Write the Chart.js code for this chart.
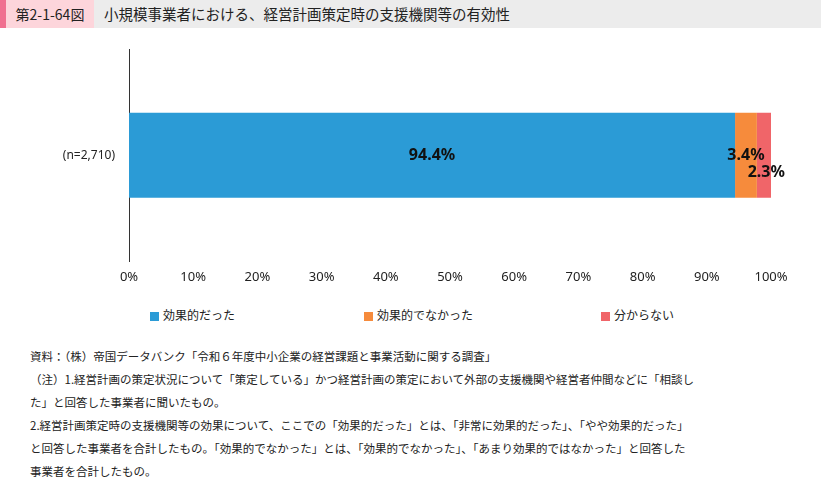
<!DOCTYPE html>
<html><head><meta charset="utf-8">
<script src="https://cdn.jsdelivr.net/npm/chart.js@4"></script>
<style>
body{margin:0;width:821px;height:485px;background:#fff;font-family:"Noto Sans CJK JP","Noto Sans",sans-serif;position:relative;overflow:hidden}
#hd{position:absolute;left:0;top:0;width:821px;height:28px;background:#ececec}
#hd .strip{position:absolute;left:0;top:0;width:6px;height:28px;background:#f07090}
#hd .lab{position:absolute;left:6px;top:0;width:88px;height:28px;background:#fdd5db;font-size:14px;line-height:28px;text-align:center;color:#222}
#hd .tt{position:absolute;left:104px;top:0;font-size:14.5px;line-height:28px;color:#222}
#cv{position:absolute;left:0;top:28px}
.lg{position:absolute;top:307px;font-size:12px;color:#222;line-height:16px}
.lg span{display:inline-block;width:9px;height:9px;margin-right:4px;vertical-align:-1px}
#notes{position:absolute;left:30px;top:345px;width:770px;font-size:11.5px;line-height:23px;color:#222}
</style></head><body>
<div id="hd"><div class="strip"></div><div class="lab">第2-1-64図</div><div class="tt">小規模事業者における、経営計画策定時の支援機関等の有効性</div></div>
<canvas id="cv" width="821" height="265"></canvas>
<div class="lg" style="left:150px"><span style="background:#2b9bd6"></span>効果的だった</div>
<div class="lg" style="left:364px"><span style="background:#f68b3c"></span>効果的でなかった</div>
<div class="lg" style="left:601px"><span style="background:#f06569"></span>分からない</div>
<div id="notes">資料：（株）帝国データバンク「令和６年度中小企業の経営課題と事業活動に関する調査」<br>（注）1.経営計画の策定状況について「策定している」かつ経営計画の策定において外部の支援機関や経営者仲間などに「相談し<br>た」と回答した事業者に聞いたもの。<br>2.経営計画策定時の支援機関等の効果について、ここでの「効果的だった」とは、「非常に効果的だった」、「やや効果的だった」<br>と回答した事業者を合計したもの。「効果的でなかった」とは、「効果的でなかった」、「あまり効果的ではなかった」と回答した<br>事業者を合計したもの。</div>
<script>
const categories=["(n=2,710)"];
const seriesNames=["効果的だった","効果的でなかった","分からない"];
const effective=[94.4];
const notEffective=[3.4];
const unknown=[2.3];
const colors=["#2b9bd6","#f68b3c","#f06569"];
const labelPlugin={id:'lbl',afterDatasetsDraw(c){
 const ctx=c.ctx;ctx.save();ctx.fillStyle="#111";ctx.font="bold 16px 'Noto Sans',sans-serif";ctx.textAlign="center";ctx.textBaseline="middle";
 c.data.datasets.forEach((ds,i)=>{const el=c.getDatasetMeta(i).data[0];const v=ds.data[0].toFixed(1)+"%";
  if(i===0)ctx.fillText(v,(el.x+el.base)/2,el.y);
  else if(i===1)ctx.fillText(v,(el.x+el.base)/2,el.y);
  else ctx.fillText(v,(el.x+el.base)/2+2,el.y+17);});
 ctx.restore();}};
new Chart(document.getElementById('cv'),{type:'bar',
 data:{labels:categories,datasets:[effective,notEffective,unknown].map((d,i)=>({label:seriesNames[i],data:d,backgroundColor:colors[i],barPercentage:0.4,categoryPercentage:1}))},
 options:{indexAxis:'y',responsive:false,animation:false,layout:{padding:{top:5,right:50,bottom:0}},
  plugins:{legend:{display:false},tooltip:{enabled:false}},
  scales:{x:{stacked:true,min:0,max:100,ticks:{stepSize:10,callback:v=>v+"%",color:"#222",font:{size:13,family:"'Noto Sans',sans-serif"},padding:8},grid:{display:false,drawTicks:false},border:{display:false}},
   y:{stacked:true,afterFit(s){s.width=129},ticks:{color:"#222",font:{size:12,family:"'Noto Sans',sans-serif"},padding:14},grid:{display:false,drawTicks:false},border:{display:true,color:"#333",width:1}}}},
 plugins:[labelPlugin]});
</script></body></html>
